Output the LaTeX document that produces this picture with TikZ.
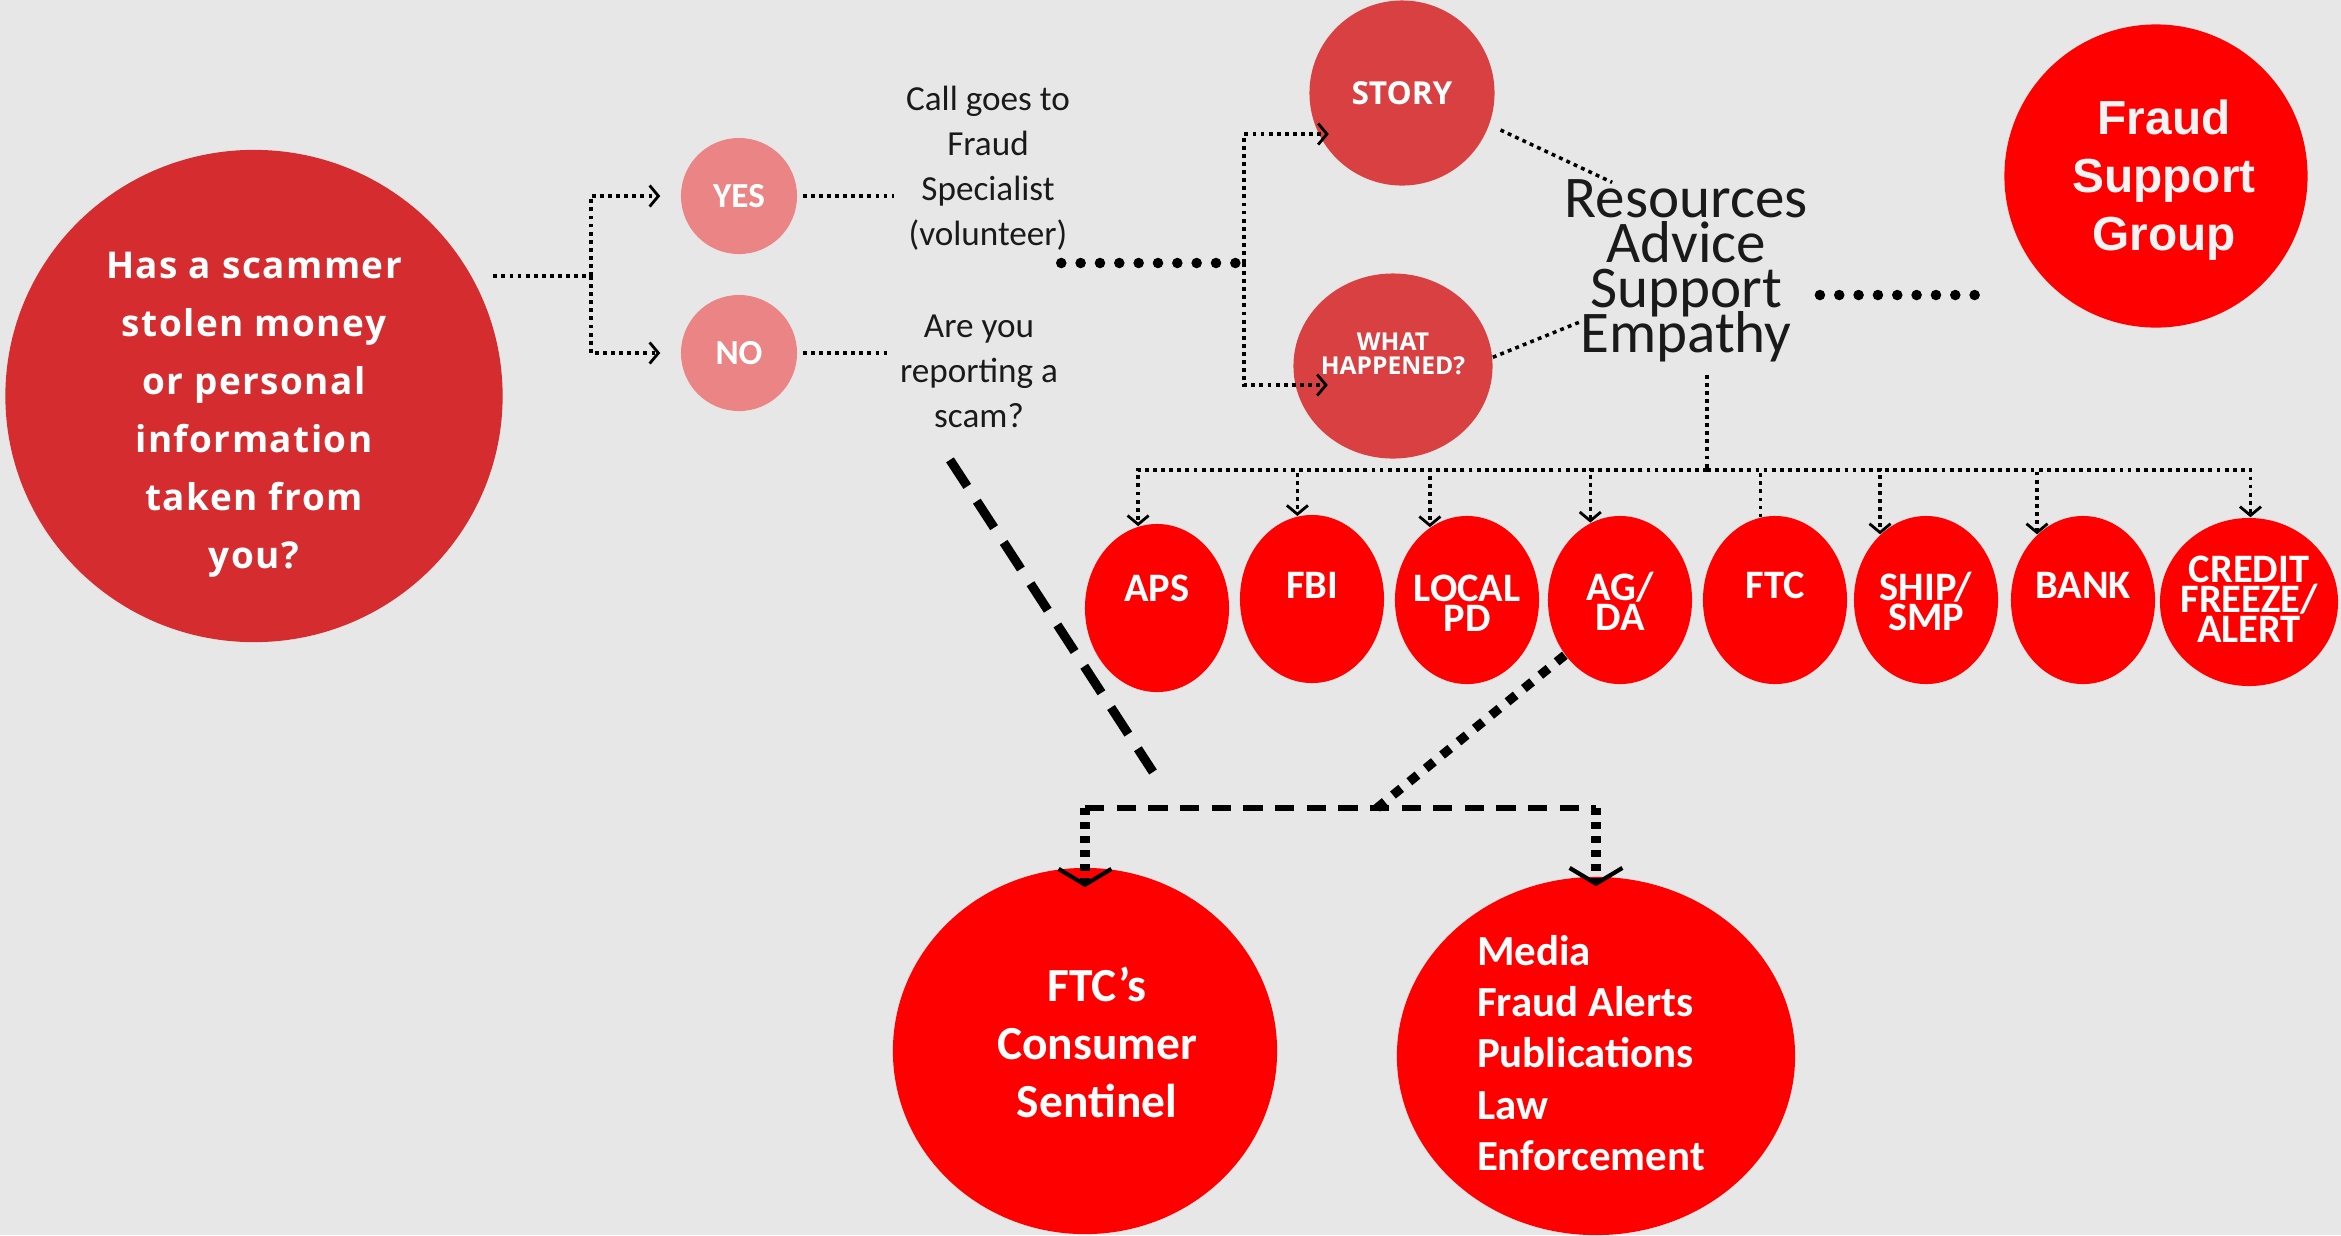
\documentclass[tikz,border=0pt]{standalone}
\usepackage{fontspec}
\setmainfont{Carlito}
\newfontfamily\qfont{Open Sans}[LetterSpace=4]
\newfontfamily\osfont{Open Sans}
\newfontfamily\arfont{Liberation Sans}
\usetikzlibrary{shapes.geometric,arrows.meta,positioning}

\definecolor{bggrey}{HTML}{E7E7E7}
\definecolor{qred}{HTML}{D52D2F}
\definecolor{dred}{HTML}{D94042}
\definecolor{ynpink}{HTML}{EB8585}
\definecolor{ink}{HTML}{1A1A1A}
\definecolor{paper}{HTML}{F4F4F4}
\newcommand{\tightlines}{\lineskiplimit=-20pt\relax}

\tikzset{
  bubble/.style={ellipse, inner sep=0pt, text=white, align=center},
  smallov/.style={bubble, fill=red, minimum height=1.68cm},
  ovtext/.style={anchor=north, text=white, align=center,
    font=\bfseries\fontsize{11.5}{8.5}\selectfont\tightlines},
  intext/.style={text=white, align=center},
  plain/.style={text=ink, align=center},
  dots/.style={line width=1pt, dash pattern=on 1.1pt off 1.2pt},
  bigdots/.style={line width=3pt, line cap=round, dash pattern=on 0pt off 5.5pt},
  longdash/.style={line width=2.6pt, dash pattern=on 9pt off 5pt},
  diadash/.style={line width=2.6pt, dash pattern=on 3pt off 3pt},
  hdash/.style={line width=1.6pt, dash pattern=on 5.5pt off 3.5pt},
  vdots/.style={line width=2.6pt, dash pattern=on 2pt off 2pt},
  tip/.style={-{Straight Barb[length=2.5pt,width=6pt,line width=0.8pt]}},
  bigtip/.style={-{Straight Barb[length=4.5pt,width=15pt,line width=1.2pt]}}
}

\begin{document}
\begin{tikzpicture}[x=0.01cm, y=-0.01cm]
    \fill[bggrey] (0,0) rectangle (2341,1235);
    \useasboundingbox (0,0) rectangle (2341,1235);

    % first question
    \node[bubble, fill=qred, minimum width=4.97cm, minimum height=4.92cm] (q) at (254,396) {};
    \node[intext, font=\qfont\bfseries\fontsize{10.5}{16.5}\selectfont] (q-t) at (254,415)
      {Has a scammer\\stolen money\\or personal\\information\\taken from\\you?};
    \node[bubble, fill=ynpink, minimum size=1.16cm, font=\bfseries\fontsize{10}{12}\selectfont] (yes) at (739,196) {YES};
    \node[bubble, fill=ynpink, minimum size=1.16cm, font=\bfseries\fontsize{10}{12}\selectfont] (no) at (739,353) {NO};
    \node[plain, font=\fontsize{10}{12.8}\selectfont] (call) at (988,168) {Call goes to\\Fraud\\Specialist\\(volunteer)};
    \node[plain, font=\fontsize{10}{12.8}\selectfont] (rep) at (979,371) {Are you\\reporting a\\scam?};

    % the call
    \node[bubble, fill=dred, minimum size=1.85cm, font=\osfont\bfseries\fontsize{9}{11}\selectfont] (story) at (1402,93) {STORY};
    \node[bubble, fill=dred, minimum width=1.99cm, minimum height=1.85cm] (wh) at (1393,366) {};
    \node[intext, font=\osfont\bfseries\fontsize{7}{6.8}\selectfont\tightlines] (wh-t) at (1393,354) {WHAT\\HAPPENED?};
    \node[plain, font=\fontsize{16.8}{12.8}\selectfont\tightlines] (res) at (1686,271) {Resources\\Advice\\Support\\Empathy};
    \node[bubble, fill=red, minimum size=3.03cm] (fsg) at (2156,176) {};
    \node[intext, text=paper, font=\arfont\bfseries\fontsize{13.6}{16.5}\selectfont] (fsg-t) at (2164,180) {Fraud\\Support\\Group};

    % where to report
    \foreach \nm/\x/\y/\w/\ty/\txt in {aps/1157/608/1.44/563/APS, fbi/1312/599/1.44/560/FBI,
      local/1467/600/1.44/563/{LOCAL\\PD}, ag/1620/600/1.44/560/{AG/\\DA}, ftc/1775/600/1.44/560/FTC,
      ship/1926/600/1.44/560/{SHIP/\\SMP}, bank/2083/600/1.44/560/BANK,
      credit/2249/602/1.78/544/{CREDIT\\FREEZE/\\ALERT}} {
      \node[smallov, minimum width=\w cm] (\nm) at (\x,\y) {};
      \node[ovtext] (\nm-t) at (\x,\ty) {\txt};
    }

    \node[bubble, fill=red, minimum width=3.84cm, minimum height=3.66cm] (sent) at (1085,1051) {};
    \node[intext, font=\bfseries\fontsize{13.5}{16.5}\selectfont] (sent-t) at (1097,1042) {FTC’s\\Consumer\\Sentinel};
    \node[bubble, fill=red, minimum width=3.98cm, minimum height=3.58cm] (media) at (1596,1056) {};
    \node[intext, align=left, font=\bfseries\fontsize{12.2}{14.6}\selectfont] (media-t) at (1591,1053)
      {Media\\Fraud Alerts\\Publications\\Law\\Enforcement};

    % connectors
    \coordinate (split) at (591,276);
    \draw[dots] ([xshift=-1mm]q.east |- split) -- (split);
    \draw[dots, tip] (split) |- ([xshift=-2mm]yes.west);
    \draw[dots, tip] (split) |- ([xshift=-2mm]no.west);
    \draw[dots] ([xshift=0.5mm]yes.east) -- (yes.east -| call.west);
    \draw[dots] ([xshift=0.5mm]no.east) -- (no.east -| rep.west);

    \coordinate (fork) at (1244,263);
    \draw[bigdots, shorten <=-2.1mm] (fork -| call.east) -- (fork);
    \draw[dots, tip] (fork) |- ([xshift=2mm,yshift=-4.1mm]story.west);
    \draw[dots, tip] (fork) |- ([xshift=3.5mm,yshift=-1.9mm]wh.west);
    \draw[dots, shorten <=1.2mm] (story.-20) -- ([xshift=6mm,yshift=-1.5mm]res.north west);
    \draw[dots] (wh.5) -- ([xshift=3mm,yshift=-5mm]res.west);
    \coordinate (sup) at ([yshift=-2.4mm]res.east);
    \draw[bigdots, shorten >=2.1mm] (sup) -- (sup -| fsg.west);

    \coordinate (hub) at (1707,470);
    \draw[dots] (res.south -| hub) -- (hub);
    \foreach \nm/\a in {aps/103, fbi/100, local/117, ag/111, ship/125, bank/125, credit/89}
      \draw[dots, tip] (hub) -| (\nm.\a);
    \draw[dots] (hub) -| (ftc.100);

    \coordinate (lend) at (1153,772);
    \draw[longdash] ([xshift=-2.9mm,yshift=-2mm]rep.south) -- (lend);
    \coordinate (jn) at (1377,808);
    \draw[diadash] (ag.225) -- (jn);
    \coordinate (lb) at (sent.north |- jn);
    \coordinate (rb) at (media.north |- jn);
    \draw[hdash] (lb) -- (rb);
    \draw[vdots, bigtip] (lb) -- ([yshift=-2mm]sent.north);
    \draw[vdots, bigtip] (rb) -- ([yshift=-1mm]media.north);
\end{tikzpicture}
\end{document}
